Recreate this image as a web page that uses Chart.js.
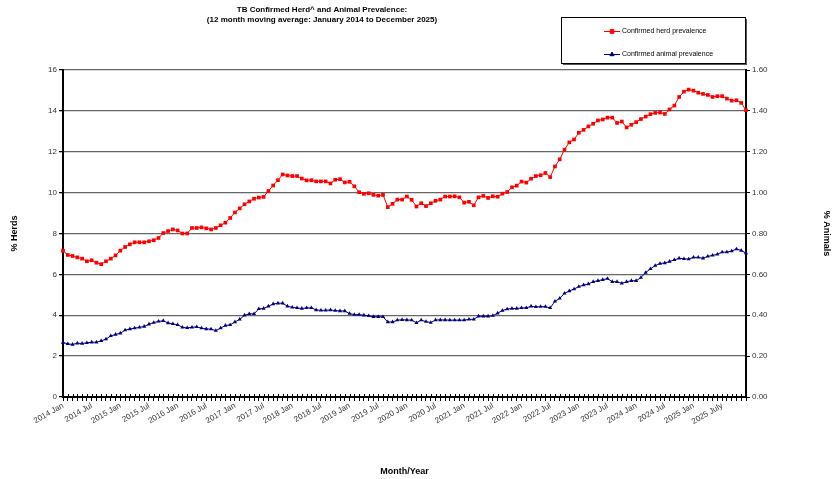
<!DOCTYPE html>
<html>
<head>
<meta charset="utf-8">
<script src="https://cdn.jsdelivr.net/npm/chart.js@4.4.0/dist/chart.umd.min.js"></script>
<style>
    html, body { margin: 0; padding: 0; background: #fff; }
    #wrap { width: 832px; height: 479px; position: relative; }
</style>
</head>
<body>
<div id="wrap"><canvas id="tbChart"></canvas></div>
<script>
// months run Jan 2014 .. Dec 2025, labels shown every 6 months
var years = [2014, 2015, 2016, 2017, 2018, 2019, 2020, 2021, 2022, 2023, 2024, 2025];
var tickLabels = ['2014 Jan', '2014 Jul', '2015 Jan', '2015 Jul', '2016 Jan', '2016 Jul',
    '2017 Jan', '2017 Jul', '2018 Jan', '2018 Jul', '2019 Jan', '2019 Jul',
    '2020 Jan', '2020 Jul', '2021 Jan', '2021 Jul', '2022 Jan', '2022 Jul',
    '2023 Jan', '2023 Jul', '2024 Jan', '2024 Jul', '2025 Jan', '2025 July'];

// % herds (left axis)
var herdPrevalence = [
    7.16, 6.95, 6.90, 6.83, 6.77, 6.64, 6.69, 6.57, 6.50, 6.64, 6.77, 6.93,
    7.16, 7.34, 7.47, 7.57, 7.57, 7.57, 7.62, 7.67, 7.78, 8.02, 8.12, 8.20,
    8.15, 8.00, 8.00, 8.27, 8.27, 8.30, 8.25, 8.20, 8.27, 8.40, 8.53, 8.76,
    9.03, 9.23, 9.43, 9.57, 9.70, 9.76, 9.79, 10.08, 10.35, 10.61, 10.89, 10.84,
    10.81, 10.81, 10.69, 10.60, 10.61, 10.55, 10.55, 10.55, 10.45, 10.63, 10.66, 10.50,
    10.53, 10.31, 10.02, 9.94, 9.97, 9.89, 9.85, 9.89, 9.29, 9.45, 9.66, 9.66,
    9.81, 9.65, 9.32, 9.48, 9.34, 9.48, 9.60, 9.66, 9.81, 9.81, 9.82, 9.77,
    9.51, 9.55, 9.38, 9.77, 9.84, 9.74, 9.82, 9.80, 9.95, 10.03, 10.26, 10.34,
    10.54, 10.49, 10.68, 10.81, 10.85, 10.96, 10.76, 11.28, 11.63, 12.10, 12.46, 12.60,
    12.93, 13.07, 13.24, 13.37, 13.53, 13.58, 13.67, 13.67, 13.41, 13.48, 13.19, 13.32,
    13.45, 13.60, 13.72, 13.84, 13.90, 13.92, 13.85, 14.07, 14.26, 14.68, 14.94, 15.04,
    14.99, 14.89, 14.83, 14.78, 14.68, 14.72, 14.72, 14.60, 14.50, 14.52, 14.39, 14.03
];

// % animals (right axis)
var animalPrevalence = [
    0.267, 0.260, 0.257, 0.263, 0.262, 0.265, 0.268, 0.268, 0.275, 0.283, 0.299, 0.306,
    0.312, 0.327, 0.333, 0.337, 0.341, 0.345, 0.356, 0.364, 0.370, 0.373, 0.362, 0.358,
    0.353, 0.341, 0.338, 0.341, 0.343, 0.337, 0.333, 0.332, 0.325, 0.337, 0.350, 0.353,
    0.367, 0.380, 0.400, 0.407, 0.407, 0.431, 0.433, 0.444, 0.455, 0.459, 0.459, 0.444,
    0.439, 0.436, 0.433, 0.436, 0.436, 0.426, 0.424, 0.424, 0.426, 0.423, 0.421, 0.421,
    0.408, 0.403, 0.403, 0.400, 0.397, 0.393, 0.393, 0.392, 0.367, 0.367, 0.376, 0.378,
    0.377, 0.376, 0.363, 0.376, 0.369, 0.364, 0.377, 0.377, 0.377, 0.376, 0.376, 0.376,
    0.376, 0.380, 0.380, 0.395, 0.395, 0.395, 0.398, 0.410, 0.423, 0.430, 0.433, 0.433,
    0.436, 0.436, 0.444, 0.441, 0.442, 0.442, 0.436, 0.468, 0.483, 0.507, 0.519, 0.528,
    0.540, 0.548, 0.553, 0.564, 0.569, 0.574, 0.579, 0.564, 0.564, 0.556, 0.564, 0.569,
    0.569, 0.584, 0.609, 0.627, 0.643, 0.653, 0.656, 0.663, 0.671, 0.679, 0.676, 0.675,
    0.683, 0.683, 0.679, 0.688, 0.693, 0.698, 0.709, 0.709, 0.714, 0.724, 0.717, 0.704
];

var titleLines = ['TB Confirmed Herd^ and Animal Prevalence:',
    '(12 month moving average: January 2014 to December 2025)'];

var FONT = "'Liberation Sans', Arial, sans-serif";

var labels = [];
years.forEach(function (yr, yi) {
    for (var m = 0; m < 12; m++) {
        labels.push(m % 6 === 0 ? tickLabels[yi * 2 + m / 6] : '');
    }
});

// draws title, the boxed legend and the '+' month ticks on the x axis
var decorations = {
    id: 'decorations',
    afterDraw: function (chart) {
        var ctx = chart.ctx;
        var xs = chart.scales.x;
        var area = chart.chartArea;
        ctx.save();

        ctx.fillStyle = '#000';
        ctx.font = 'bold 8px ' + FONT;
        ctx.textAlign = 'center';
        ctx.textBaseline = 'middle';
        ctx.fillText(titleLines[0], 322, 10);
        ctx.fillText(titleLines[1], 322, 20);

        // month ticks poke up into the plot as well
        ctx.strokeStyle = '#000';
        ctx.lineWidth = 1;
        for (var i = 0; i < xs.ticks.length; i++) {
            var px = Math.round(xs.getPixelForTick(i)) + 0.5;
            ctx.beginPath();
            ctx.moveTo(px, area.bottom - 3);
            ctx.lineTo(px, area.bottom);
            ctx.stroke();
        }

        // legend box with shadow
        var bx = 561, by = 17, bw = 184, bh = 46;
        ctx.fillStyle = '#555';
        ctx.fillRect(bx + 2, by + 2, bw, bh);
        ctx.fillStyle = '#fff';
        ctx.fillRect(bx, by, bw, bh);
        ctx.strokeStyle = '#000';
        ctx.strokeRect(bx + 0.5, by + 0.5, bw, bh);

        var rows = [31, 54];
        chart.data.datasets.forEach(function (ds, k) {
            var ly = rows[k];
            ctx.strokeStyle = ds.borderColor;
            ctx.lineWidth = 1;
            ctx.beginPath();
            ctx.moveTo(604, ly + 0.5);
            ctx.lineTo(620, ly + 0.5);
            ctx.stroke();
            Chart.helpers.drawPoint(ctx, {
                pointStyle: ds.pointStyle, radius: ds.pointRadius, rotation: 0, borderWidth: 1
            }, 612, ly + 0.5);
            ctx.fillStyle = ds.borderColor;
            ctx.fill();
            ctx.fillStyle = '#000';
            ctx.font = '7px ' + FONT;
            ctx.textAlign = 'left';
            ctx.fillText(ds.label, 622, ly + 0.5);
        });
        ctx.restore();
    }
};

var canvas = document.getElementById('tbChart');
new Chart(canvas.getContext('2d'), {
    type: 'line',
    data: {
        labels: labels,
        datasets: [
            {
                label: 'Confirmed herd prevalence',
                data: herdPrevalence,
                yAxisID: 'y',
                borderColor: '#ff0000',
                backgroundColor: '#ff0000',
                borderWidth: 1,
                pointStyle: 'rect',
                pointRadius: 2.6,
                pointBorderWidth: 0,
                tension: 0,
                fill: false
            },
            {
                label: 'Confirmed animal prevalence',
                data: animalPrevalence,
                yAxisID: 'y1',
                borderColor: '#000080',
                backgroundColor: '#000080',
                borderWidth: 1,
                pointStyle: 'triangle',
                pointRadius: 2.4,
                pointBorderWidth: 0,
                tension: 0,
                fill: false
            }
        ]
    },
    options: {
        responsive: true,
        maintainAspectRatio: false,
        animation: false,
        layout: { padding: { top: 70, left: 0, right: 0, bottom: 0 } },
        plugins: {
            legend: { display: false },
            title: { display: false },
            tooltip: { enabled: false }
        },
        scales: {
            x: {
                type: 'category',
                offset: false,
                grid: { display: true, drawOnChartArea: false, drawTicks: true, tickLength: 4, color: '#000' },
                border: { color: '#000', width: 2 },
                ticks: {
                    autoSkip: false, minRotation: 30, maxRotation: 30, padding: 0,
                    color: '#333', font: { family: FONT, size: 8 }
                },
                title: {
                    display: true, text: 'Month/Year', color: '#000',
                    font: { family: FONT, size: 9, weight: 'bold' }, padding: { top: 0, bottom: 2 }
                },
                afterFit: function (s) { s.height = 82; }
            },
            y: {
                position: 'left',
                min: 0, max: 16,
                grid: { color: '#666', lineWidth: 1.3, tickLength: 4, tickColor: '#000' },
                border: { color: '#000', width: 2 },
                ticks: { stepSize: 2, padding: 2, color: '#333', font: { family: FONT, size: 8 } },
                title: {
                    display: true, text: '% Herds', color: '#000',
                    font: { family: FONT, size: 9, weight: 'bold' }, padding: { top: 9, bottom: 0 }
                },
                afterFit: function (s) { s.width = 63; }
            },
            y1: {
                position: 'right',
                min: 0, max: 1.6,
                grid: { drawOnChartArea: false, tickLength: 4, color: '#000' },
                border: { color: '#000', width: 2 },
                ticks: {
                    stepSize: 0.2, padding: 2, color: '#333', font: { family: FONT, size: 8 },
                    callback: function (v) { return Number(v).toFixed(2); }
                },
                title: {
                    display: true, text: '% Animals', color: '#000',
                    font: { family: FONT, size: 9, weight: 'bold' }, padding: { top: 0, bottom: 0 }
                },
                afterFit: function (s) { s.width = 86; }
            }
        }
    },
    plugins: [decorations]
});
</script>
</body>
</html>
